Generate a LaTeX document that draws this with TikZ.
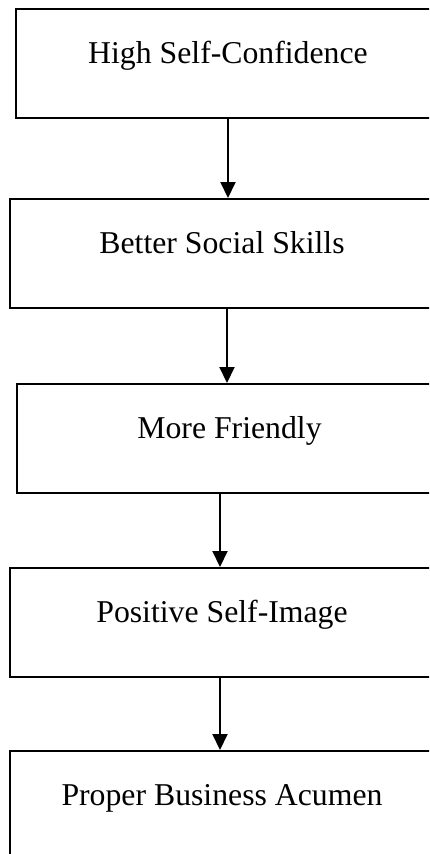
\documentclass[tikz,border=0pt]{standalone}
\usepackage{fontspec}
\setmainfont{Liberation Serif}
\usetikzlibrary{arrows.meta}

\tikzset{
    stage/.style={draw, line width=0.8pt, rectangle, inner sep=0pt, minimum width=169.6pt,
        text height=21.6pt, text depth=22pt, anchor=base, font=\fontsize{12.7}{15}\selectfont},
    flow/.style={-{Triangle[length=6.4pt, width=6pt]}, line width=0.8pt}
}

\begin{document}
\begin{tikzpicture}[x=0.4pt, y=-0.4pt]
        % Page frame, boxes run past the right edge
        \clip (0,0) rectangle (429,854);

        % Stages
        \node[stage] (conf) at (228,63) {High Self-Confidence};
        \node[stage] (skills) at (222,253) {Better Social Skills};
        \node[stage] (friendly) at (229.5,438) {More Friendly};
        \node[stage] (image) at (222,622) {Positive Self-Image};
        \node[stage] (acumen) at (222,805) {Proper Business Acumen};

        % Arrows between stages
        \draw[flow] (conf.south) -- (conf.south |- skills.north);
        \draw[flow] ([xshift=2pt]skills.south) -- ([xshift=2pt]skills.south |- friendly.north);
        \draw[flow] ([xshift=-3.8pt]friendly.south) -- ([xshift=-3.8pt]friendly.south |- image.north);
        \draw[flow] ([xshift=-0.8pt]image.south) -- ([xshift=-0.8pt]image.south |- acumen.north);
    \end{tikzpicture}
\end{document}
